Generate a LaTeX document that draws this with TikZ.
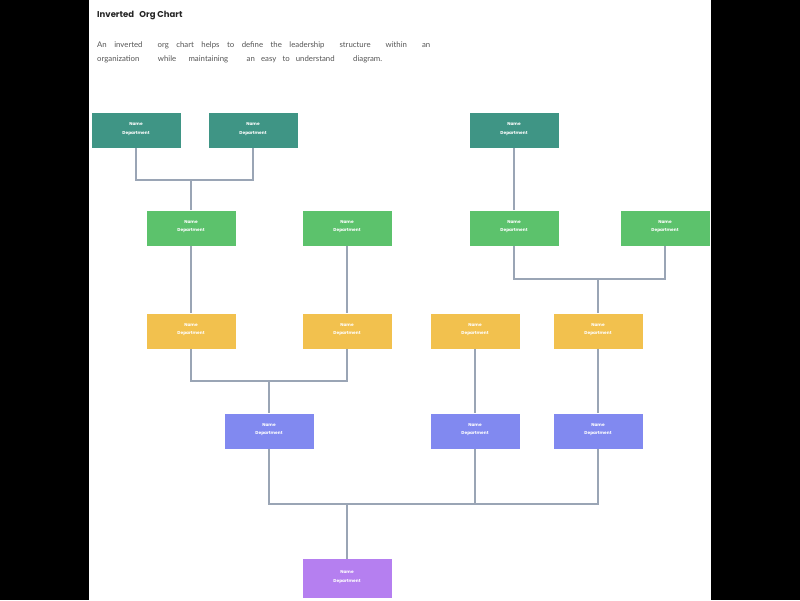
\documentclass[tikz,border=0pt]{standalone}
\usepackage{fontspec}
\setmainfont{Lato}
\newfontfamily\titlefont{Poppins}
\usepackage{tikz}

\definecolor{tealbox}{HTML}{3F9585}
\definecolor{greenbox}{HTML}{5CC26C}
\definecolor{yellowbox}{HTML}{F2C14E}
\definecolor{bluebox}{HTML}{8189F0}
\definecolor{purplebox}{HTML}{B57FF0}
\definecolor{linkgray}{HTML}{9AA5B5}
\definecolor{bodytext}{HTML}{555555}

\tikzset{
    person/.style={minimum width=89pt, minimum height=35pt, inner sep=0pt, text=white,
        text depth=4pt, align=center, font=\titlefont\bfseries\fontsize{4.3}{8.5}\selectfont},
    link/.style={draw=linkgray, line width=1.3pt}
}

\newcommand{\who}{Name\\Department}

\begin{document}
\begin{tikzpicture}[x=1pt, y=-1pt]
    \fill[black] (0,0) rectangle (800,600);
    \fill[white] (89,0) rectangle (711,600);
    \useasboundingbox (0,0) rectangle (800,600);

    \node[anchor=west, font=\titlefont\bfseries\fontsize{8.5}{10}\selectfont, text=black!85, inner sep=0pt] (title) at (97,16) {Inverted\ \ \ Org\ Chart};
    \node[anchor=west, font=\fontsize{7.8}{9}\selectfont, text=bodytext, inner sep=0pt] (line1) at (97,45)
        {\makebox[333pt][s]{An inverted\ \ org chart helps to define the leadership\ \ structure\ \ within\ \ an}};
    \node[anchor=west, font=\fontsize{7.8}{9}\selectfont, text=bodytext, inner sep=0pt] (line2) at (97,59)
        {\makebox[285pt][s]{organization\ \ \ while\ \ maintaining\ \ \ an easy to understand\ \ \ diagram.}};

    \node[person, fill=tealbox] (t1) at (136,130.5) {\who};
    \node[person, fill=tealbox] (t2) at (253,130.5) {\who};
    \node[person, fill=tealbox] (t3) at (514,130.5) {\who};

    \node[person, fill=greenbox] (g1) at (191,228) {\who};
    \node[person, fill=greenbox] (g2) at (347,228) {\who};
    \node[person, fill=greenbox] (g3) at (514,228) {\who};
    \node[person, fill=greenbox] (g4) at (665,228) {\who};

    \node[person, fill=yellowbox] (y1) at (191,331) {\who};
    \node[person, fill=yellowbox] (y2) at (347,331) {\who};
    \node[person, fill=yellowbox] (y3) at (475,331) {\who};
    \node[person, fill=yellowbox] (y4) at (598,331) {\who};

    \node[person, fill=bluebox] (b1) at (269,431) {\who};
    \node[person, fill=bluebox] (b2) at (475,431) {\who};
    \node[person, fill=bluebox] (b3) at (598,431) {\who};

    \node[person, fill=purplebox, minimum height=39pt] (p1) at (347,578.5) {\who};

    \coordinate (j1) at (191,180);
    \coordinate (j2) at (598,279);
    \coordinate (j3) at (269,381);
    \coordinate (j4) at (347,504);

    \draw[link] (t1.south) |- (j1) -| (t2.south);
    \draw[link] (j1) -- (g1.north);
    \draw[link] (t3.south) -- (g3.north);

    \draw[link] (g1.south) -- (y1.north);
    \draw[link] (g2.south) -- (y2.north);
    \draw[link] (g3.south) |- (j2) -| (g4.south);
    \draw[link] (j2) -- (y4.north);

    \draw[link] (y1.south) |- (j3) -| (y2.south);
    \draw[link] (j3) -- (b1.north);
    \draw[link] (y3.south) -- (b2.north);
    \draw[link] (y4.south) -- (b3.north);

    \draw[link] (b1.south) |- (j4) -| (b3.south);
    \draw[link] (b2.south) -- (b2.south |- j4);
    \draw[link] (j4) -- (p1.north);
\end{tikzpicture}
\end{document}
